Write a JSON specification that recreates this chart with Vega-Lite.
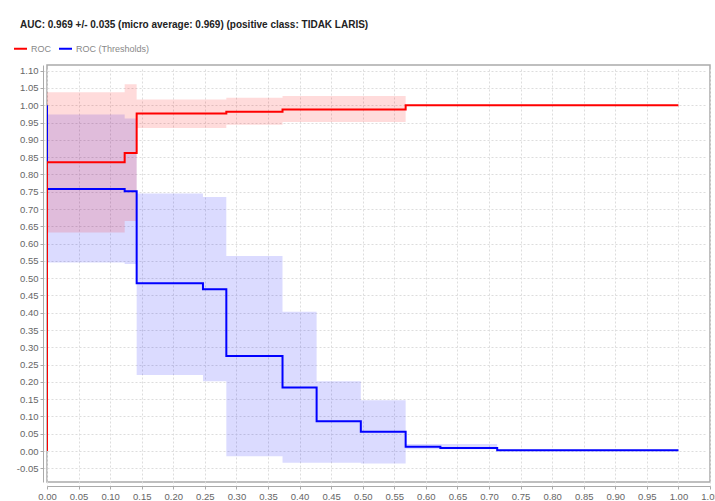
{
  "$schema": "https://vega.github.io/schema/vega-lite/v6.json",
  "width": 663,
  "height": 417,
  "autosize": {"type": "none"},
  "padding": {"left": 47, "top": 65, "right": 5, "bottom": 19},
  "background": "white",
  "config": {
    "font": "Liberation Sans",
    "view": {"stroke": "#aaaaaa", "strokeWidth": 1.5},
    "axis": {
      "title": null,
      "gridDash": [2, 2],
      "gridColor": "#dddddd",
      "labelColor": "#666666",
      "labelFontSize": 9.5,
      "tickColor": "#aaaaaa",
      "domainColor": "#aaaaaa",
      "tickSize": 3,
      "offset": 4,
      "labelOverlap": false,
      "labelBound": false,
      "labelFlush": false,
      "tickCount": 40,
      "labelExpr": "replace(format(datum.value, '.2f'), '\u2212', '-')"
    }
  },
  "title": {
    "text": "AUC: 0.969 +/- 0.035 (micro average: 0.969) (positive class: TIDAK LARIS)",
    "anchor": "start",
    "frame": "group",
    "fontSize": 10,
    "fontWeight": "bold",
    "color": "#222222",
    "offset": 11,
    "dx": -27
  },
  "datasets": {
    "lines": [
      {"series": "ROC (Thresholds)", "i": 0, "x": 0.0, "y": 1.0},
      {"series": "ROC (Thresholds)", "i": 1, "x": 0.0, "y": 0.758},
      {"series": "ROC (Thresholds)", "i": 2, "x": 0.123, "y": 0.751},
      {"series": "ROC (Thresholds)", "i": 3, "x": 0.142, "y": 0.485},
      {"series": "ROC (Thresholds)", "i": 4, "x": 0.247, "y": 0.468},
      {"series": "ROC (Thresholds)", "i": 5, "x": 0.284, "y": 0.275},
      {"series": "ROC (Thresholds)", "i": 6, "x": 0.373, "y": 0.184},
      {"series": "ROC (Thresholds)", "i": 7, "x": 0.427, "y": 0.086},
      {"series": "ROC (Thresholds)", "i": 8, "x": 0.497, "y": 0.056},
      {"series": "ROC (Thresholds)", "i": 9, "x": 0.568, "y": 0.012},
      {"series": "ROC (Thresholds)", "i": 10, "x": 0.623, "y": 0.009},
      {"series": "ROC (Thresholds)", "i": 11, "x": 0.713, "y": 0.002},
      {"series": "ROC (Thresholds)", "i": 12, "x": 1.0, "y": 0.002},
      {"series": "ROC", "i": 0, "x": 0.0, "y": 0.0},
      {"series": "ROC", "i": 1, "x": 0.0, "y": 0.835},
      {"series": "ROC", "i": 2, "x": 0.123, "y": 0.862},
      {"series": "ROC", "i": 3, "x": 0.142, "y": 0.976},
      {"series": "ROC", "i": 4, "x": 0.284, "y": 0.981},
      {"series": "ROC", "i": 5, "x": 0.373, "y": 0.988},
      {"series": "ROC", "i": 6, "x": 0.568, "y": 1.0},
      {"series": "ROC", "i": 7, "x": 1.0, "y": 1.0}
    ],
    "redBand": [
      {"x": 0.0, "lo": 0.632, "hi": 1.038},
      {"x": 0.123, "lo": 0.665, "hi": 1.061},
      {"x": 0.142, "lo": 0.934, "hi": 1.017},
      {"x": 0.284, "lo": 0.944, "hi": 1.022},
      {"x": 0.373, "lo": 0.952, "hi": 1.027},
      {"x": 0.568, "lo": 1.0, "hi": 1.0},
      {"x": 1.0, "lo": 1.0, "hi": 1.0}
    ],
    "blueBand": [
      {"x": 0.0, "lo": 0.545, "hi": 0.973},
      {"x": 0.123, "lo": 0.541, "hi": 0.962},
      {"x": 0.142, "lo": 0.22, "hi": 0.745},
      {"x": 0.247, "lo": 0.202, "hi": 0.735},
      {"x": 0.284, "lo": -0.015, "hi": 0.564},
      {"x": 0.373, "lo": -0.034, "hi": 0.403},
      {"x": 0.427, "lo": -0.034, "hi": 0.202},
      {"x": 0.497, "lo": -0.036, "hi": 0.147},
      {"x": 0.568, "lo": 0.005, "hi": 0.02},
      {"x": 0.713, "lo": 0.002, "hi": 0.002},
      {"x": 1.0, "lo": 0.002, "hi": 0.002}
    ]
  },
  "encoding": {
    "x": {
      "field": "x",
      "type": "quantitative",
      "scale": {"domain": [0, 1.05], "nice": false, "zero": false},
      "axis": {"labelOverlap": false, "tickCount": 40, "values": [0, 0.05, 0.1, 0.15, 0.2, 0.25, 0.3, 0.35, 0.4, 0.45, 0.5, 0.55, 0.6, 0.65, 0.7, 0.75, 0.8, 0.85, 0.9, 0.95, 1.0, 1.05]}
    }
  },
  "layer": [
    {
      "data": {"name": "blueBand"},
      "mark": {"type": "area", "interpolate": "step-after", "color": "#0000ff", "opacity": 0.14, "clip": true},
      "encoding": {
        "y": {
          "field": "lo",
          "type": "quantitative",
          "scale": {"domain": [-0.0896, 1.1165], "nice": false, "zero": false},
          "axis": {"labelOverlap": false, "tickCount": 40, "values": [-0.05, 0, 0.05, 0.1, 0.15, 0.2, 0.25, 0.3, 0.35, 0.4, 0.45, 0.5, 0.55, 0.6, 0.65, 0.7, 0.75, 0.8, 0.85, 0.9, 0.95, 1.0, 1.05, 1.1]}
        },
        "y2": {"field": "hi"}
      }
    },
    {
      "data": {"name": "redBand"},
      "mark": {"type": "area", "interpolate": "step-after", "color": "#ff0000", "opacity": 0.14, "clip": true},
      "encoding": {
        "y": {"field": "lo", "type": "quantitative"},
        "y2": {"field": "hi"}
      }
    },
    {
      "data": {"name": "lines"},
      "mark": {"type": "line", "interpolate": "step-after", "strokeWidth": 2, "clip": true},
      "encoding": {
        "y": {"field": "y", "type": "quantitative"},
        "order": {"field": "i", "type": "quantitative"},
        "color": {
          "field": "series",
          "type": "nominal",
          "scale": {"domain": ["ROC (Thresholds)", "ROC"], "range": ["#0000ff", "#ff0000"]},
          "legend": {
            "title": null,
            "orient": "none",
            "legendX": -34,
            "legendY": -24,
            "direction": "horizontal",
            "values": ["ROC", "ROC (Thresholds)"],
            "symbolType": "stroke",
            "symbolSize": 169,
            "symbolStrokeWidth": 2,
            "labelColor": "#888888",
            "labelFontSize": 9,
            "labelOffset": 3,
            "columnPadding": 4
          }
        }
      }
    }
  ]
}
